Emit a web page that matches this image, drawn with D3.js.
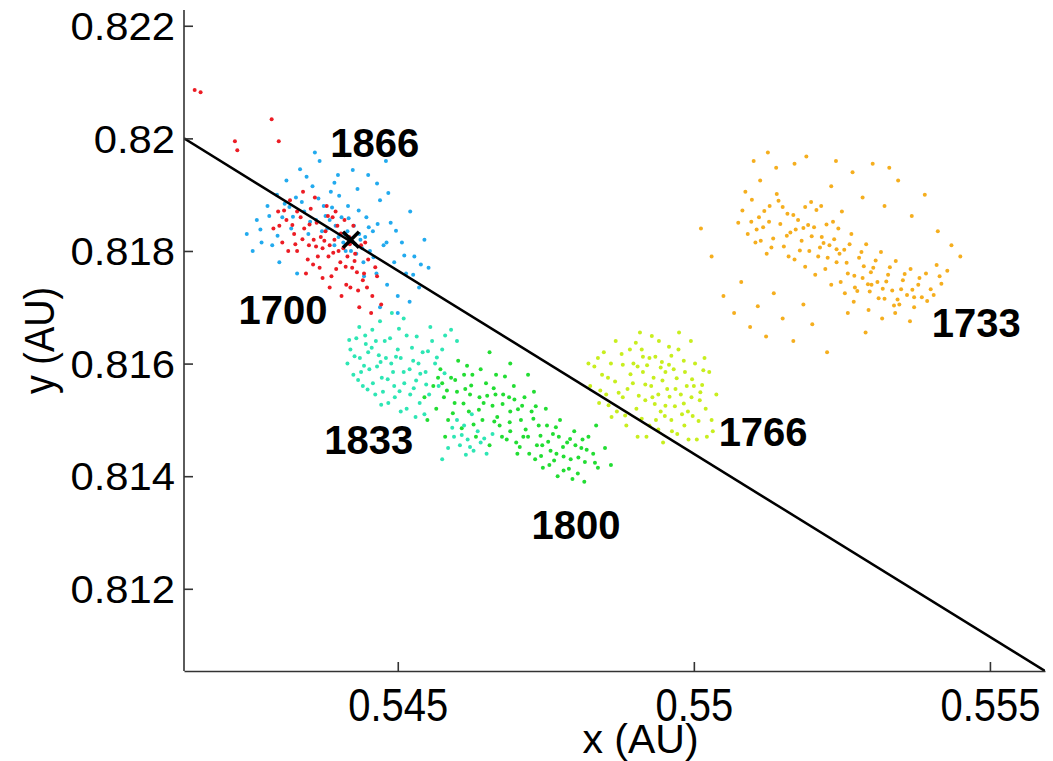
<!DOCTYPE html>
<html lang="en">
<head>
  <meta charset="UTF-8" />
  <title>Cluster positions</title>
  <script src="https://d3js.org/d3.v7.min.js"></script>
  <style>
    body { margin: 0; background: #fff; }
    svg { display: block; }
    text { font-family: "Liberation Sans", Arial, sans-serif; fill: #000; }
    .year { font-weight: bold; font-size: 40px; }
  </style>
</head>
<body>
  <svg id="chart" width="1053" height="761"></svg>

  <script>
    // epochs shown, one cloud of points each
    const years = ["1733", "1766", "1800", "1833", "1866", "1700"];

    const pts1733 = [
      [0.55075,0.81850],[0.55082,0.81872],[0.55091,0.81830],[0.55098,0.81891],[0.55104,0.81815],[0.55110,0.81860],
      [0.55117,0.81842],[0.55123,0.81795],[0.55128,0.81880],[0.55134,0.81822],[0.55140,0.81901],[0.55146,0.81848],
      [0.55152,0.81808],[0.55158,0.81866],[0.55163,0.81833],[0.55170,0.81785],[0.55176,0.81855],[0.55182,0.81818],
      [0.55188,0.81878],[0.55195,0.81800],[0.55087,0.81905],[0.55112,0.81925],[0.55139,0.81948],[0.55101,0.81960],
      [0.55125,0.81975],[0.55203,0.81842],[0.55210,0.81790],[0.55216,0.81825],[0.55222,0.81768],[0.55229,0.81810],
      [0.55235,0.81852],[0.55241,0.81780],[0.55248,0.81745],[0.55254,0.81802],[0.55260,0.81760],[0.55266,0.81830],
      [0.55272,0.81735],[0.55279,0.81788],[0.55285,0.81752],[0.55291,0.81812],[0.55297,0.81728],[0.55303,0.81770],
      [0.55310,0.81745],[0.55316,0.81798],[0.55322,0.81715],[0.55328,0.81758],[0.55335,0.81730],[0.55341,0.81782],
      [0.55347,0.81705],[0.55353,0.81748],[0.55360,0.81722],[0.55366,0.81768],[0.55372,0.81700],[0.55379,0.81740],
      [0.55385,0.81718],[0.55392,0.81760],[0.55400,0.81732],[0.55410,0.81775],[0.55418,0.81742],[0.55428,0.81765],
      [0.55215,0.81880],[0.55232,0.81915],[0.55250,0.81870],[0.55268,0.81940],[0.55285,0.81895],[0.55302,0.81955],
      [0.55322,0.81880],[0.55345,0.81925],[0.55368,0.81862],[0.55390,0.81900],[0.55412,0.81835],[0.55435,0.81810],
      [0.55450,0.81790],[0.55170,0.81955],[0.55190,0.81968],[0.55240,0.81960],[0.55330,0.81948],
      [0.55050,0.81720],[0.55068,0.81690],[0.55080,0.81745],[0.55095,0.81665],[0.55108,0.81702],[0.55122,0.81648],
      [0.55135,0.81725],[0.55150,0.81680],[0.55168,0.81640],[0.55185,0.81705],[0.55200,0.81670],[0.55225,0.81620],
      [0.55260,0.81690],[0.55290,0.81655],[0.55012,0.81840],[0.55030,0.81790],
      [0.55270,0.81710],[0.55295,0.81695],[0.55318,0.81680],[0.55340,0.81690],[0.55365,0.81675],[0.55300,0.81740],
      [0.55255,0.81725],[0.55232,0.81740],[0.55205,0.81758],[0.55188,0.81772],
      [0.55106,0.81838],[0.55119,0.81871],[0.55131,0.81806],[0.55143,0.81889],[0.55157,0.81827],[0.55168,0.81864],
      [0.55179,0.81801],[0.55193,0.81846],[0.55207,0.81873],[0.55219,0.81814],[0.55097,0.81852],[0.55127,0.81852],
      [0.55150,0.81878],[0.55172,0.81838],[0.55199,0.81826],[0.55113,0.81818],[0.55160,0.81790],[0.55185,0.81841],
      [0.55258,0.81779],[0.55271,0.81756],[0.55283,0.81798],[0.55294,0.81741],[0.55307,0.81783],[0.55319,0.81733],
      [0.55331,0.81771],[0.55344,0.81714],[0.55356,0.81759],[0.55369,0.81731],[0.55381,0.81752],[0.55394,0.81711],
      [0.55276,0.81729],[0.55299,0.81762],[0.55325,0.81746],[0.55350,0.81732],[0.55372,0.81718],[0.55338,0.81703],
      [0.55312,0.81716],[0.55287,0.81773],[0.55241,0.81803],[0.55226,0.81788],[0.55263,0.81812],[0.55415,0.81755],
      [0.55405,0.81722],[0.55213,0.81806],[0.55237,0.81821],[0.55246,0.81795],[0.55224,0.81847],[0.55198,0.81887],
      [0.55244,0.81840]
    ];

    const pts1766 = [
      [0.54825,0.81560],[0.54832,0.81595],[0.54840,0.81530],[0.54848,0.81620],[0.54855,0.81575],[0.54861,0.81505],
      [0.54868,0.81640],[0.54873,0.81548],[0.54880,0.81598],[0.54886,0.81490],[0.54892,0.81625],[0.54897,0.81565],
      [0.54903,0.81520],[0.54909,0.81655],[0.54914,0.81585],[0.54920,0.81470],[0.54925,0.81610],[0.54930,0.81540],
      [0.54936,0.81500],[0.54941,0.81640],[0.54947,0.81570],[0.54952,0.81525],[0.54958,0.81598],[0.54963,0.81480],
      [0.54969,0.81555],[0.54974,0.81625],[0.54980,0.81510],[0.54985,0.81585],[0.54991,0.81465],[0.54996,0.81540],
      [0.55002,0.81600],[0.55008,0.81498],[0.55014,0.81562],[0.55020,0.81520],[0.55026,0.81585],[0.55032,0.81480],
      [0.55038,0.81545],[0.54845,0.81580],[0.54870,0.81515],[0.54888,0.81555],[0.54905,0.81595],[0.54918,0.81535],
      [0.54932,0.81575],[0.54944,0.81515],[0.54955,0.81555],[0.54966,0.81590],[0.54978,0.81545],[0.54990,0.81515],
      [0.55000,0.81560],[0.54912,0.81625],[0.54935,0.81612],[0.54958,0.81630],[0.54898,0.81600],[0.54880,0.81540],
      [0.54962,0.81500],[0.54984,0.81490],[0.55010,0.81535],[0.54948,0.81460],[0.54925,0.81490],[0.54905,0.81470],
      [0.54860,0.81600],[0.54838,0.81610],[0.54822,0.81600],[0.54852,0.81545],[0.54975,0.81655],[0.54995,0.81640],
      [0.55018,0.81610],[0.55030,0.81500],[0.55022,0.81470],[0.55005,0.81465],[0.54940,0.81545],[0.54952,0.81585],
      [0.54928,0.81560],
      [0.54893,0.81581],[0.54907,0.81543],[0.54921,0.81597],[0.54934,0.81528],[0.54946,0.81603],[0.54959,0.81541],
      [0.54971,0.81574],[0.54983,0.81529],[0.54997,0.81572],[0.55011,0.81549],[0.54867,0.81568],[0.54878,0.81617],
      [0.54902,0.81637],[0.54929,0.81649],[0.54951,0.81507],[0.54968,0.81524],[0.54983,0.81605],[0.55016,0.81588],
      [0.54856,0.81526],[0.54884,0.81508],[0.54912,0.81502],[0.54940,0.81483],[0.54972,0.81475],[0.54998,0.81507],
      [0.54842,0.81552],[0.54918,0.81563],[0.54944,0.81593],[0.54988,0.81560],[0.54914,0.81612],[0.54962,0.81614]
    ];

    const pts1800 = [
      [0.54560,0.81560],[0.54565,0.81520],[0.54572,0.81590],[0.54578,0.81540],[0.54585,0.81500],[0.54590,0.81575],
      [0.54596,0.81530],[0.54602,0.81605],[0.54608,0.81485],[0.54614,0.81555],[0.54620,0.81515],[0.54626,0.81580],
      [0.54632,0.81470],[0.54638,0.81540],[0.54643,0.81500],[0.54649,0.81565],[0.54655,0.81455],[0.54660,0.81525],
      [0.54666,0.81580],[0.54672,0.81490],[0.54678,0.81545],[0.54684,0.81465],[0.54690,0.81515],[0.54696,0.81560],
      [0.54702,0.81440],[0.54708,0.81500],[0.54714,0.81540],[0.54720,0.81470],[0.54726,0.81515],[0.54732,0.81430],
      [0.54738,0.81490],[0.54744,0.81455],[0.54750,0.81520],[0.54756,0.81420],[0.54762,0.81475],[0.54768,0.81440],
      [0.54774,0.81500],[0.54780,0.81410],[0.54786,0.81460],[0.54792,0.81430],[0.54798,0.81480],[0.54804,0.81405],
      [0.54810,0.81450],[0.54816,0.81425],[0.54822,0.81470],[0.54830,0.81440],[0.54838,0.81415],
      [0.54575,0.81565],[0.54600,0.81550],[0.54622,0.81545],[0.54645,0.81530],[0.54668,0.81505],[0.54690,0.81480],
      [0.54712,0.81470],[0.54735,0.81455],[0.54758,0.81445],[0.54780,0.81435],[0.54800,0.81455],[0.54612,0.81580],
      [0.54640,0.81590],[0.54665,0.81545],[0.54688,0.81540],[0.54710,0.81525],[0.54730,0.81550],[0.54752,0.81490],
      [0.54772,0.81470],[0.54795,0.81395],[0.54815,0.81390],[0.54770,0.81400],[0.54745,0.81415],[0.54722,0.81440],
      [0.54700,0.81460],[0.54676,0.81470],[0.54655,0.81620],[0.54690,0.81600],[0.54720,0.81580],[0.54550,0.81500],
      [0.54545,0.81540],[0.54580,0.81470],[0.54850,0.81450],[0.54860,0.81420],[0.54835,0.81490],
      [0.54583,0.81552],[0.54597,0.81571],[0.54611,0.81529],[0.54624,0.81561],[0.54637,0.81518],[0.54651,0.81543],
      [0.54663,0.81497],[0.54677,0.81528],[0.54689,0.81496],[0.54703,0.81519],[0.54716,0.81483],[0.54729,0.81502],
      [0.54741,0.81472],[0.54754,0.81461],[0.54767,0.81487],[0.54779,0.81452],[0.54791,0.81466],[0.54805,0.81433],
      [0.54819,0.81447],[0.54833,0.81424],[0.54593,0.81512],[0.54628,0.81492],[0.54662,0.81556],[0.54697,0.81536],
      [0.54733,0.81524],[0.54764,0.81428],[0.54789,0.81413],[0.54812,0.81465],[0.54706,0.81452],[0.54742,0.81436],
      [0.54568,0.81575],[0.54617,0.81596],[0.54681,0.81577]
    ];

    const pts1833 = [
      [0.54415,0.81600],[0.54420,0.81625],[0.54425,0.81580],[0.54430,0.81645],[0.54436,0.81610],[0.54441,0.81560],
      [0.54446,0.81635],[0.54452,0.81590],[0.54457,0.81660],[0.54462,0.81545],[0.54468,0.81615],[0.54473,0.81575],
      [0.54478,0.81640],[0.54484,0.81530],[0.54489,0.81600],[0.54494,0.81560],[0.54500,0.81625],[0.54505,0.81515],
      [0.54510,0.81585],[0.54515,0.81650],[0.54521,0.81545],[0.54526,0.81605],[0.54531,0.81570],[0.54537,0.81530],
      [0.54542,0.81620],[0.54547,0.81585],[0.54553,0.81545],[0.54558,0.81640],[0.54563,0.81600],[0.54569,0.81560],
      [0.54575,0.81625],[0.54580,0.81650],[0.54590,0.81660],[0.54600,0.81640],
      [0.54438,0.81585],[0.54450,0.81620],[0.54465,0.81595],[0.54480,0.81610],[0.54492,0.81585],[0.54505,0.81610],
      [0.54520,0.81590],[0.54535,0.81600],[0.54458,0.81565],[0.54475,0.81550],[0.54495,0.81540],[0.54515,0.81520],
      [0.54530,0.81505],[0.54545,0.81510],[0.54470,0.81675],[0.54490,0.81690],[0.54510,0.81680],[0.54435,0.81665],
      [0.54555,0.81665],
      [0.54427,0.81613],[0.54443,0.81596],[0.54456,0.81628],[0.54471,0.81603],[0.54483,0.81572],[0.54497,0.81612],
      [0.54511,0.81565],[0.54524,0.81628],[0.54538,0.81582],[0.54551,0.81622],[0.54433,0.81571],[0.54463,0.81640],
      [0.54487,0.81645],[0.54503,0.81551],[0.54527,0.81556],[0.54548,0.81563],[0.54566,0.81611],[0.54579,0.81583],
      [0.54449,0.81554],[0.54472,0.81527],[0.54418,0.81642],[0.54445,0.81650],[0.54502,0.81662],[0.54532,0.81648],
      [0.54595,0.81470],[0.54605,0.81455],[0.54618,0.81465],[0.54628,0.81445],[0.54640,0.81460],[0.54650,0.81440],
      [0.54612,0.81490],[0.54635,0.81480],[0.54660,0.81475],[0.54585,0.81450],[0.54575,0.81430],[0.54600,0.81500],
      [0.54625,0.81510],[0.54608,0.81473],[0.54622,0.81452],[0.54646,0.81467],[0.54615,0.81438],[0.54592,0.81486]
    ];

    const pts1866 = [
      [0.54245,0.81830],[0.54255,0.81800],[0.54262,0.81855],[0.54270,0.81815],[0.54280,0.81880],[0.54288,0.81810],
      [0.54296,0.81900],[0.54305,0.81860],[0.54312,0.81925],[0.54320,0.81840],[0.54328,0.81895],[0.54335,0.81945],
      [0.54342,0.81870],[0.54349,0.81830],[0.54356,0.81915],[0.54362,0.81855],[0.54368,0.81960],[0.54375,0.81880],
      [0.54381,0.81840],[0.54387,0.81905],[0.54393,0.81810],[0.54399,0.81935],[0.54405,0.81860],[0.54410,0.81830],
      [0.54416,0.81880],[0.54421,0.81800],[0.54426,0.81845],[0.54432,0.81910],[0.54437,0.81820],[0.54442,0.81780],
      [0.54447,0.81860],[0.54453,0.81800],[0.54458,0.81835],[0.54464,0.81760],[0.54470,0.81890],[0.54476,0.81810],
      [0.54482,0.81740],[0.54488,0.81850],[0.54494,0.81780],[0.54500,0.81720],[0.54507,0.81815],[0.54514,0.81760],
      [0.54521,0.81870],[0.54528,0.81790],[0.54536,0.81735],[0.54545,0.81820],[0.54552,0.81770],
      [0.54400,0.81825],[0.54408,0.81815],[0.54415,0.81835],[0.54422,0.81822],[0.54428,0.81812],[0.54435,0.81830],
      [0.54440,0.81805],[0.54445,0.81825],[0.54412,0.81800],[0.54430,0.81795],[0.54395,0.81845],[0.54385,0.81855],
      [0.54378,0.81862],[0.54450,0.81935],[0.54465,0.81920],[0.54480,0.81960],[0.54360,0.81975],[0.54410,0.81970],
      [0.54300,0.81780],[0.54330,0.81760],[0.54500,0.81690],[0.54470,0.81700],[0.54520,0.81710],
      [0.54268,0.81838],[0.54283,0.81862],[0.54297,0.81827],[0.54309,0.81884],[0.54323,0.81861],[0.54338,0.81887],
      [0.54352,0.81852],[0.54366,0.81893],[0.54372,0.81835],[0.54389,0.81877],[0.54401,0.81898],[0.54417,0.81858],
      [0.54434,0.81872],[0.54451,0.81842],[0.54466,0.81848],[0.54481,0.81815],[0.54497,0.81836],[0.54511,0.81792],
      [0.54526,0.81758],[0.54459,0.81789],[0.54443,0.81755],[0.54393,0.81921],[0.54346,0.81932],[0.54424,0.81944],
      [0.54317,0.81878],[0.54484,0.81903],[0.54539,0.81776]
    ];

    const pts1700 = [
      [0.54290,0.81840],[0.54298,0.81870],[0.54305,0.81815],[0.54312,0.81855],[0.54318,0.81890],[0.54325,0.81830],
      [0.54330,0.81800],[0.54336,0.81860],[0.54342,0.81840],[0.54348,0.81785],[0.54353,0.81875],[0.54358,0.81820],
      [0.54363,0.81850],[0.54368,0.81770],[0.54373,0.81805],[0.54378,0.81835],[0.54383,0.81790],[0.54388,0.81755],
      [0.54393,0.81820],[0.54398,0.81845],[0.54403,0.81780],[0.54408,0.81805],[0.54413,0.81740],[0.54418,0.81825],
      [0.54423,0.81770],[0.54428,0.81795],[0.54433,0.81730],[0.54438,0.81810],[0.54443,0.81760],[0.54450,0.81785],
      [0.54457,0.81720],[0.54465,0.81755],[0.54472,0.81705],[0.54340,0.81905],[0.54360,0.81895],[0.54380,0.81880],
      [0.54395,0.81870],[0.54410,0.81855],[0.54350,0.81810],[0.54370,0.81825],[0.54385,0.81810],[0.54400,0.81800],
      [0.54415,0.81790],[0.54390,0.81860],[0.54365,0.81790],[0.54345,0.81760],[0.54330,0.81870],[0.54315,0.81800],
      [0.54300,0.81845],[0.54420,0.81735],[0.54405,0.81720],[0.54385,0.81735],[0.54435,0.81700],[0.54455,0.81690],
      [0.54425,0.81845],[0.54445,0.81815],
      [0.54322,0.81846],[0.54339,0.81821],[0.54351,0.81847],[0.54362,0.81808],[0.54376,0.81818],[0.54391,0.81797],
      [0.54404,0.81831],[0.54412,0.81772],[0.54427,0.81782],[0.54441,0.81748],[0.54357,0.81776],[0.54373,0.81752],
      [0.54396,0.81768],[0.54308,0.81872],[0.54327,0.81812],[0.54419,0.81812],[0.54431,0.81762],[0.54448,0.81735],
      [0.54462,0.81771],[0.54382,0.81862],
      [0.54157,0.82086],[0.54167,0.82082],[0.54225,0.81995],[0.54229,0.81979],[0.54287,0.82034],[0.54299,0.81995]
    ];

    const clouds = [pts1733, pts1766, pts1800, pts1833, pts1866, pts1700];
    const cloudColors = ["#f5ae1e", "#c8ee1e", "#22dd33", "#2ee6b4", "#22aaee", "#ec1c24"];

    // label anchors (x centre, y baseline) in AU
    const labelX = [0.55477, 0.55117, 0.54801, 0.54451, 0.54461, 0.54306];
    const labelY = [0.81647, 0.81454, 0.81289, 0.81439, 0.81967, 0.81670];

    // straight line and the marked point on it
    const lineX = [0.54139, 0.55593];
    const lineY = [0.82000, 0.81054];
    const markX = 0.54421, markY = 0.81820;

    const xTicks = [0.545, 0.55, 0.555];
    const yTicks = [0.812, 0.814, 0.816, 0.818, 0.82, 0.822];

    const svg = d3.select("#chart");
    const mLeft = 184, mRight = 1045, mTop = 10, mBottom = 671;

    const x = d3.scaleLinear().domain([0.54139, 0.55593]).range([mLeft, mRight]);
    const y = d3.scaleLinear().domain([0.81054, 0.82228]).range([mBottom, mTop]);

    svg.append("clipPath").attr("id", "plot")
      .append("rect").attr("x", mLeft).attr("y", mTop)
      .attr("width", mRight - mLeft).attr("height", mBottom - mTop);

    const plot = svg.append("g").attr("clip-path", "url(#plot)");

    clouds.forEach((pts, i) => {
      plot.append("g")
        .attr("fill", cloudColors[i])
        .selectAll("circle")
        .data(pts)
        .join("circle")
        .attr("cx", d => x(d[0]))
        .attr("cy", d => y(d[1]))
        .attr("r", 2);
    });

    plot.append("path")
      .datum(lineX.map((v, i) => [v, lineY[i]]))
      .attr("fill", "none")
      .attr("stroke", "#000")
      .attr("stroke-width", 2.5)
      .attr("d", d3.line().x(d => x(d[0])).y(d => y(d[1])));

    const mx = x(markX), my = y(markY);
    plot.append("path")
      .attr("d", `M${mx - 8},${my - 8}L${mx + 8},${my + 8}M${mx - 8},${my + 8}L${mx + 8},${my - 8}`)
      .attr("stroke", "#000")
      .attr("stroke-width", 3.5);

    svg.append("g")
      .selectAll("text")
      .data(years)
      .join("text")
      .attr("class", "year")
      .attr("text-anchor", "middle")
      .attr("x", (d, i) => x(labelX[i]))
      .attr("y", (d, i) => y(labelY[i]))
      .text(d => d);

    // axes: only left and bottom, ticks pointing inward
    const xAxis = svg.append("g")
      .attr("transform", `translate(0,${mBottom})`)
      .call(d3.axisBottom(x).tickValues(xTicks).tickSizeInner(-9).tickSizeOuter(0)
        .tickFormat(d3.format("")).tickPadding(0));
    xAxis.select(".domain").attr("stroke", "#333").attr("stroke-width", 1.6);
    xAxis.selectAll(".tick line").attr("stroke", "#333").attr("stroke-width", 1.6);
    xAxis.selectAll(".tick text")
      .attr("y", 0).attr("dy", 0)
      .attr("transform", "translate(0,50) scale(0.85,1)")
      .attr("font-size", 47)
      .attr("font-family", "Liberation Sans, Arial, sans-serif")
      .attr("fill", "#000");

    const yAxis = svg.append("g")
      .attr("transform", `translate(${mLeft},0)`)
      .call(d3.axisLeft(y).tickValues(yTicks).tickSizeInner(-9).tickSizeOuter(0)
        .tickFormat(d3.format("")).tickPadding(0));
    yAxis.select(".domain").attr("stroke", "#333").attr("stroke-width", 1.6)
      .attr("d", `M0,${mTop}V${mBottom}`);
    yAxis.selectAll(".tick line").attr("stroke", "#333").attr("stroke-width", 1.6);
    yAxis.selectAll(".tick text")
      .attr("x", 0).attr("dy", "0.36em")
      .attr("transform", "translate(-9,0) scale(1.1,1)")
      .attr("font-size", 38)
      .attr("font-family", "Liberation Sans, Arial, sans-serif")
      .attr("fill", "#000");

    svg.append("text")
      .attr("text-anchor", "middle")
      .attr("transform", `translate(${(mLeft + mRight) / 2 + 26},753)`)
      .attr("font-size", 41)
      .text("x (AU)");

    svg.append("text")
      .attr("text-anchor", "middle")
      .attr("transform", `translate(54,${(mTop + mBottom) / 2}) rotate(-90) scale(0.9,1)`)
      .attr("font-size", 42)
      .text("y (AU)");
  </script>
</body>
</html>
